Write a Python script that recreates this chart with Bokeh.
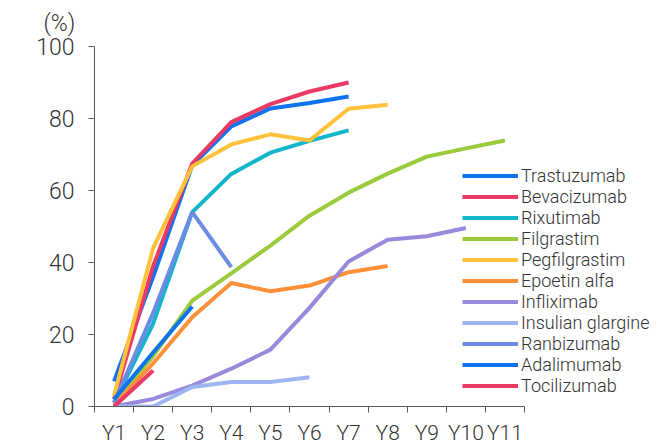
from bokeh.plotting import figure
from bokeh.models import Range1d, FixedTicker, Legend, LegendItem
from bokeh.embed import file_html
from bokeh.resources import INLINE

years = ["Y1", "Y2", "Y3", "Y4", "Y5", "Y6", "Y7", "Y8", "Y9", "Y10", "Y11"]
y_ticks = [0, 20, 40, 60, 80, 100]

trastuzumab = [7, 36, 67, 77.8, 82.8, 84.3, 86.1]
bevacizumab = [2, 39, 67.5, 79, 84, 87.5, 90]
rixutimab = [1, 23, 54, 64.6, 70.5, 73.8, 76.7]
filgrastim = [1, 14, 29.4, 37, 44.7, 53, 59.4, 64.7, 69.4, 71.7, 73.9]
pegfilgrastim = [3, 44, 66.7, 72.8, 75.6, 73.9, 82.7, 83.8]
epoetin_alfa = [0.5, 12, 24.8, 34.3, 32, 33.6, 37.3, 39]
infliximab = [0, 2.1, 5.8, 10.5, 15.8, 27.4, 40.3, 46.3, 47.3, 49.6]
insulin_glargine = [0, 0, 5.4, 6.8, 6.8, 8.1]
ranbizumab = [1, 26, 54, 38.7]
adalimumab = [2, 15, 27.8]
tocilizumab = [0, 10]

series = [
    ("Trastuzumab", trastuzumab, "#0F73EE"),
    ("Bevacizumab", bevacizumab, "#EA3A63"),
    ("Rixutimab", rixutimab, "#11B6CB"),
    ("Filgrastim", filgrastim, "#9BCB3C"),
    ("Pegfilgrastim", pegfilgrastim, "#FFC23A"),
    ("Epoetin alfa", epoetin_alfa, "#FF903A"),
    ("Infliximab", infliximab, "#9A88DC"),
    ("Insulian glargine", insulin_glargine, "#9DB6F2"),
    ("Ranbizumab", ranbizumab, "#6B8CE2"),
    ("Adalimumab", adalimumab, "#0F73EE"),
    ("Tocilizumab", tocilizumab, "#EA3A63"),
]

FONT = "Roboto Light"

# frame: left edge at 94 px, category width 430/11 px; frame runs to the right edge
n = len(years)
x_end = 0.5 + (660 - 94) * n / 430.0

p = figure(width=660, height=447, output_backend="svg", toolbar_location=None,
           x_range=Range1d(0.5, x_end), y_range=Range1d(0, 100),
           min_border_left=94, min_border_right=0, min_border_top=46, min_border_bottom=41,
           title="(%)")
p.outline_line_color = None
p.xgrid.visible = False
p.ygrid.visible = False
p.background_fill_color = "white"

p.title.align = "left"
p.title.vertical_align = "top"
p.title.offset = -51
p.title.text_font = FONT
p.title.text_font_style = "normal"
p.title.text_font_size = "23px"
p.title.text_color = "#333333"
p.title.standoff = 16

items = []
for name, vals, color in series:
    xs = list(range(1, len(vals) + 1))
    r = p.line(xs, vals, line_color=color, line_width=4)
    items.append(LegendItem(label=name, renderers=[r]))

xa = p.xaxis[0]
xa.bounds = (0.5, n + 0.5)
xa.ticker = FixedTicker(ticks=list(range(1, n + 1)),
                        minor_ticks=[i + 0.5 for i in range(n + 1)])
xa.major_label_overrides = {i + 1: y for i, y in enumerate(years)}
xa.major_tick_out = 0
xa.major_tick_in = 0
xa.minor_tick_out = 6
xa.minor_tick_in = 0
xa.axis_line_color = "#595959"
xa.minor_tick_line_color = "#595959"
xa.major_label_text_font = FONT
xa.major_label_text_font_size = "21px"
xa.major_label_text_color = "#333333"
xa.major_label_standoff = 8

ya = p.yaxis[0]
ya.ticker = FixedTicker(ticks=y_ticks, minor_ticks=[])
ya.major_tick_out = 6
ya.major_tick_in = 0
ya.minor_tick_line_color = None
ya.axis_line_color = "#595959"
ya.major_tick_line_color = "#595959"
ya.major_label_text_font = FONT
ya.major_label_text_font_size = "23px"
ya.major_label_text_color = "#333333"
ya.major_label_standoff = 14

legend = Legend(items=items, location=(368, 10), border_line_color=None,
                background_fill_alpha=0, padding=0, margin=0, spacing=0,
                glyph_width=56, glyph_height=21, label_height=21, label_standoff=3,
                label_text_font=FONT, label_text_font_size="18px",
                label_text_color="#333333")
p.add_layout(legend)

open("out.html", "w").write(file_html(p, INLINE))
